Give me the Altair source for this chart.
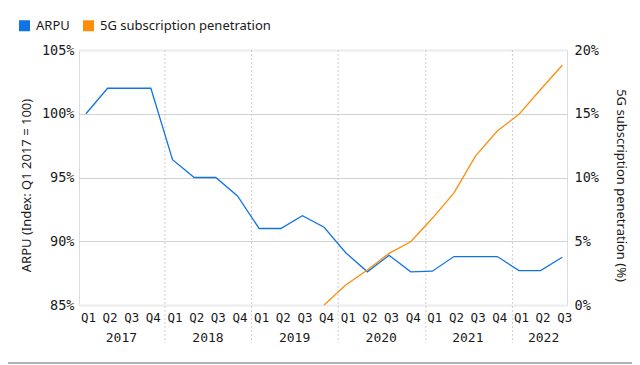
import altair as alt
import pandas as pd

quarters = ["Q1", "Q2", "Q3", "Q4"]
years = [2017, 2017, 2017, 2017, 2018, 2018, 2018, 2018, 2019, 2019, 2019, 2019,
         2020, 2020, 2020, 2020, 2021, 2021, 2021, 2021, 2022, 2022, 2022]
arpu = [100, 102, 102, 102, 96.4, 95.0, 95.0, 93.55, 91.0, 91.0, 92.0, 91.1,
        89.1, 87.6, 88.9, 87.6, 87.65, 88.8, 88.8, 88.8, 87.7, 87.7, 88.75]
# 5G penetration starts Q4 2019 (index 11)
fiveg_start = 11
fiveg = [0.0, 1.57, 2.75, 4.05, 4.96, 6.8, 8.8, 11.7, 13.65, 14.95, 16.9, 18.8]
year_boundaries = [3.65, 7.65, 11.65, 15.7, 19.7]
series_names = ["ARPU", "5G subscription penetration"]

BLUE = "#1174E6"
ORANGE = "#FF8C0A"
SANS = "Noto Sans"
MONO = "DejaVu Sans Mono"

idx = list(range(len(arpu)))
df_arpu = pd.DataFrame({"i": idx, "value": arpu, "series": "ARPU"})
df_5g = pd.DataFrame({"i": list(range(fiveg_start, fiveg_start + len(fiveg))),
                      "value": fiveg, "series": "5G subscription penetration"})
yr = pd.DataFrame({"i": idx, "year": years})
df_years = yr.groupby("year", as_index=False)["i"].mean()
df_years["label"] = df_years["year"].astype(str)
df_div = pd.DataFrame({"i": year_boundaries})
df_leg = pd.DataFrame({"series": series_names})

xscale = alt.Scale(domain=[-0.32, 22.22], nice=False, zero=False)
color_scale = alt.Scale(domain=series_names, range=[BLUE, ORANGE])

x_axis = alt.Axis(values=idx, labelExpr="'Q' + (datum.value % 4 + 1)", title=None,
                  domain=False, ticks=False, grid=False, labelFont=MONO, labelFontSize=12.5,
                  labelColor="#1a1a1a", labelPadding=6, labelOffset=2)

legend = alt.Legend(title=None, orient="none", legendX=-61, legendY=-31, direction="horizontal",
                    symbolType="square", symbolSize=121, symbolStrokeWidth=0, symbolOpacity=1,
                    labelFont=SANS, labelFontSize=13, labelColor="#1a1a1a", labelOffset=5,
                    labelLimit=400, columnPadding=12, padding=0)

legend_layer = alt.Chart(df_leg).mark_square(size=0, opacity=0).encode(
    x=alt.value(0), y=alt.value(0),
    fill=alt.Fill("series:N", scale=color_scale, legend=legend))

dividers = alt.Chart(df_div).mark_rule(color="#cfcfcf", strokeDash=[2, 2], strokeWidth=1).encode(
    x=alt.X("i:Q", scale=xscale, axis=x_axis),
    y=alt.value(0), y2=alt.value(293))

line_arpu = alt.Chart(df_arpu).mark_line(strokeWidth=1.3).encode(
    x=alt.X("i:Q", scale=xscale, axis=x_axis),
    y=alt.Y("value:Q", scale=alt.Scale(domain=[85, 105], nice=False, zero=False),
            axis=alt.Axis(orient="left", values=[85, 90, 95, 100, 105], labelExpr="datum.value + '%'",
                          title="ARPU (Index: Q1 2017 = 100)", titleFont=SANS, titleFontSize=13,
                          titleFontWeight="normal", titleColor="#1a1a1a", titleX=-53, titleY=135,
                          titleAngle=270, titleAlign="center", titleBaseline="middle",
                          domain=False, ticks=False, labelFont=MONO, labelFontSize=13.5,
                          labelColor="#1a1a1a", labelPadding=5,
                          gridColor={"condition": {"test": "datum.value == 85 || datum.value == 105",
                                                   "value": "#ececec"}, "value": "#d2d2d2"},
                          gridWidth={"condition": {"test": "datum.value == 85 || datum.value == 105",
                                                   "value": 2}, "value": 1})),
    stroke=alt.Stroke("series:N", scale=color_scale, legend=None))

line_5g = alt.Chart(df_5g).mark_line(strokeWidth=1.3).encode(
    x=alt.X("i:Q", scale=xscale, axis=x_axis),
    y=alt.Y("value:Q", scale=alt.Scale(domain=[0, 20], nice=False),
            axis=alt.Axis(orient="right", values=[0, 5, 10, 15, 20], labelExpr="datum.value + '%'",
                          title="5G subscription penetration (%)", titleFont=SANS, titleFontSize=13,
                          titleFontWeight="normal", titleColor="#1a1a1a", titleX=53, titleY=135,
                          titleAngle=90, titleAlign="center", titleBaseline="middle",
                          domain=False, ticks=False, grid=False, labelFont=MONO, labelFontSize=13.5,
                          labelColor="#1a1a1a", labelPadding=7)),
    stroke=alt.Stroke("series:N", scale=color_scale, legend=None))

year_text = alt.Chart(df_years).mark_text(font=MONO, fontSize=13, color="#1a1a1a",
                                          baseline="middle", dx=3).encode(
    x=alt.X("i:Q", scale=xscale, axis=x_axis),
    y=alt.value(288),
    text="label:N")

bottom_line = alt.Chart(df_leg.head(1)).mark_rule(color="#9a9a9a", strokeWidth=1.5).encode(
    x=alt.value(-71), x2=alt.value(553), y=alt.value(313))

chart = alt.layer(legend_layer, dividers, line_arpu, line_5g, year_text, bottom_line).resolve_scale(
    y="independent").properties(
    width=488, height=255,
    autosize=alt.AutoSizeParams(type="none"),
    padding={"left": 71, "top": 42, "right": 65, "bottom": 60}
).configure_view(stroke=None).configure(background="white")

chart.save("out.html", embed_options={"renderer": "svg", "actions": False})
